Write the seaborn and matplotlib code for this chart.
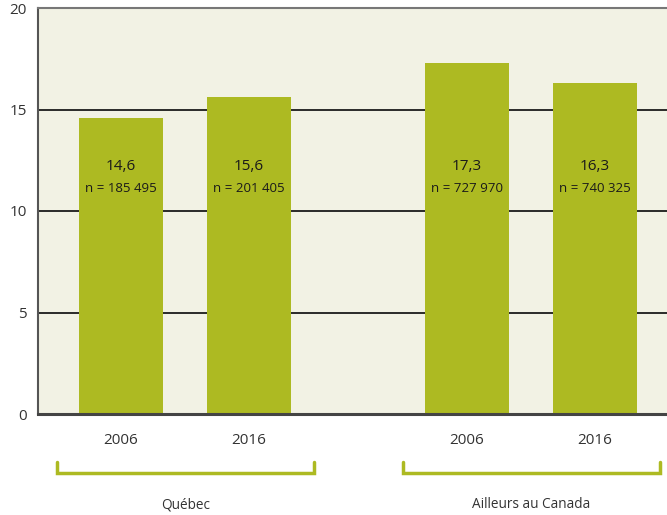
import matplotlib
matplotlib.use("Agg")
import matplotlib.pyplot as plt
import seaborn as sns
import pandas as pd

# Data
groups = ["Québec", "Québec", "Ailleurs au Canada", "Ailleurs au Canada"]
years = ["2006", "2016", "2006", "2016"]
values = [14.6, 15.6, 17.3, 16.3]
counts = ["n = 185 495", "n = 201 405", "n = 727 970", "n = 740 325"]
positions = [0.0, 1.0, 2.7, 3.7]
group_names = ["Québec", "Ailleurs au Canada"]
y_ticks = [0, 5, 10, 15, 20]

df = pd.DataFrame({"pos": positions, "value": values, "year": years, "group": groups})

sns.set_theme(style="white")
plt.rcParams["font.family"] = ["Open Sans", "DejaVu Sans"]

bar_color = "#ADBA22"
bg_color = "#F2F2E4"
text_color = "#333333"

fig = plt.figure(figsize=(6.67, 5.15), dpi=100)
W, H = 667, 515
ax = fig.add_axes([38 / W, (H - 414) / H, (667 - 38) / W, (414 - 8) / H])
ax.set_facecolor(bg_color)

sns.barplot(data=df, x="pos", y="value", native_scale=True, width=0.656,
            color=bar_color, saturation=1, edgecolor="none", linewidth=0, ax=ax, zorder=3)

ax.set_xlim(-0.648, 4.266)
ax.set_ylim(0, 20)
ax.set_yticks(y_ticks)
ax.set_yticklabels([str(t) for t in y_ticks], fontsize=11, color=text_color)
ax.set_xticks(positions)
ax.set_xticklabels(years, fontsize=11, color=text_color)
ax.tick_params(axis="both", length=0)
ax.tick_params(axis="y", pad=8)
ax.tick_params(axis="x", pad=14)
ax.set_xlabel("")
ax.set_ylabel("")

# Horizontal gridlines
for t in y_ticks[1:-1]:
    ax.axhline(t, color="#1a1a1a", lw=1.3, zorder=2)

ax.spines["right"].set_visible(False)
ax.spines["top"].set_color("#777777")
ax.spines["top"].set_linewidth(1.5)
ax.spines["left"].set_color("#555555")
ax.spines["left"].set_linewidth(1.5)
ax.spines["bottom"].set_color("#444444")
ax.spines["bottom"].set_linewidth(2.2)
for s in ax.spines.values():
    s.set_zorder(4)

# Value labels inside bars
for p, v, n in zip(positions, values, counts):
    ax.text(p, 12.2, f"{v:.1f}".replace(".", ","), ha="center", va="center",
            fontsize=11, color="#1a1a1a", fontweight="medium", zorder=5)
    ax.text(p, 11.1, n, ha="center", va="center", fontsize=9.5,
            color="#1a1a1a", zorder=5)

# Group brackets below the axis
trans = ax.get_xaxis_transform()
brackets = [(-0.5, 1.51), (2.2, 4.21)]
y_top, y_bot = -0.118, -0.145
for (x0, x1), name in zip(brackets, group_names):
    ax.plot([x0, x0, x1, x1], [y_top, y_bot, y_bot, y_top], color=bar_color,
            lw=2.5, transform=trans, clip_on=False, solid_joinstyle="miter")
    ax.text((x0 + x1) / 2, -0.224, name, ha="center", va="center", fontsize=9.8,
            color=text_color, transform=trans)

fig.savefig("out.png", dpi=100, facecolor="white")
